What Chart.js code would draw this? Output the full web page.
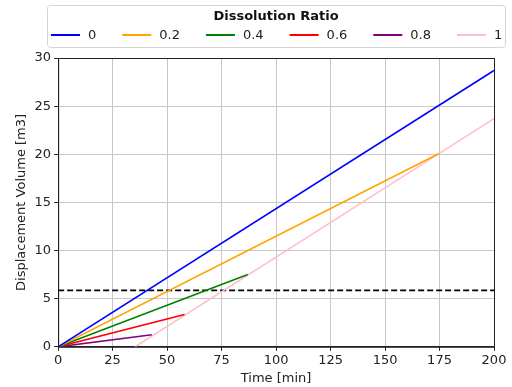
<!DOCTYPE html>
<html>
<head>
<meta charset="utf-8">
<script src="https://cdn.jsdelivr.net/npm/chart.js@4.4.0/dist/chart.umd.min.js"></script>
<style>
  html, body { margin: 0; padding: 0; background: #fff; }
  #wrap { width: 512px; height: 387px; }
</style>
</head>
<body>
<div id="wrap"><canvas id="chart" width="512" height="387"></canvas></div>
<script>
// dissolution ratios and line endpoints [time min, volume m3]
const ratioLabels = ["0", "0.2", "0.4", "0.6", "0.8", "1"];
const lineColors = ["#0000ff", "#ffa500", "#008000", "#ff0000", "#800080", "#ffc0cb"];
const ratio0 = [{ x: 0, y: 0 }, { x: 200, y: 28.7 }];
const ratio02 = [{ x: 0, y: 0 }, { x: 175, y: 20.1 }];
const ratio04 = [{ x: 0, y: 0 }, { x: 87, y: 7.5 }];
const ratio06 = [{ x: 0, y: 0 }, { x: 58, y: 3.35 }];
const ratio08 = [{ x: 0, y: 0 }, { x: 43, y: 1.25 }];
const ratio1 = [{ x: 35.3, y: 0 }, { x: 200, y: 23.7 }];
const thresholdY = 5.86;
const xTicks = [0, 25, 50, 75, 100, 125, 150, 175, 200];
const yTicks = [0, 5, 10, 15, 20, 25, 30];

const seriesData = [ratio0, ratio02, ratio04, ratio06, ratio08, ratio1];
const FONT = "DejaVu Sans";

const datasets = seriesData.map((pts, i) => ({
    label: ratioLabels[i],
    data: pts,
    borderColor: lineColors[i],
    backgroundColor: lineColors[i],
    borderWidth: 1.6,
    pointRadius: 0,
    fill: false,
}));

datasets.push({
    label: "threshold",
    data: [{ x: 0, y: thresholdY }, { x: 200, y: thresholdY }],
    borderColor: "#000000",
    borderWidth: 1.6,
    borderDash: [6, 3],
    pointRadius: 0,
    fill: false,
});

// matplotlib-style frame + legend box with one row of items
const framePlugin = {
    id: "frame",
    afterDraw(chart) {
        const ctx = chart.ctx;
        const a = chart.chartArea;
        ctx.save();
        ctx.strokeStyle = "#222";
        ctx.lineWidth = 1;
        ctx.strokeRect(a.left + 0.5, a.top + 0.5, a.right - a.left, a.bottom - a.top);

        // legend box
        const boxL = 47, boxR = 505, boxT = 5, boxB = 47;
        ctx.strokeStyle = "#d4d4d4";
        ctx.beginPath();
        ctx.roundRect(boxL + 0.5, boxT + 0.5, boxR - boxL, boxB - boxT, 3);
        ctx.stroke();

        ctx.fillStyle = "#111";
        ctx.font = "bold 13px '" + FONT + "'";
        ctx.textAlign = "center";
        ctx.textBaseline = "middle";
        ctx.fillText("Dissolution Ratio", (boxL + boxR) / 2, 17);

        ctx.font = "13px '" + FONT + "'";
        ctx.textAlign = "left";
        let x = 51;
        const y = 35;
        chart.data.datasets.forEach((ds) => {
            if (ds.label === "threshold") return;
            ctx.strokeStyle = ds.borderColor;
            ctx.lineWidth = 2;
            ctx.beginPath();
            ctx.moveTo(x, y);
            ctx.lineTo(x + 29, y);
            ctx.stroke();
            ctx.fillStyle = "#222";
            ctx.fillText(ds.label, x + 37, y + 1);
            x += 37 + ctx.measureText(ds.label).width + 26;
        });
        ctx.restore();
    },
};

new Chart(document.getElementById("chart").getContext("2d"), {
    type: "line",
    data: { datasets: datasets },
    options: {
        responsive: false,
        animation: false,
        layout: { padding: { left: 14, right: 18, top: 58, bottom: 1 } },
        plugins: {
            legend: { display: false },
            tooltip: { enabled: false },
        },
        scales: {
            x: {
                type: "linear",
                min: 0,
                max: 200,
                afterBuildTicks: (axis) => {
                    axis.ticks = xTicks.map((v) => ({ value: v }));
                },
                grid: { color: "#c8c8c8", lineWidth: 1, tickLength: 4, tickColor: "#222" },
                border: { color: "#222" },
                ticks: {
                    color: "#222",
                    font: { family: FONT, size: 13 },
                    maxRotation: 0,
                    padding: 2,
                },
                title: {
                    display: true,
                    text: "Time [min]",
                    color: "#222",
                    padding: { top: 0, bottom: 0 },
                    font: { family: FONT, size: 13 },
                },
            },
            y: {
                type: "linear",
                min: 0,
                max: 30,
                afterBuildTicks: (axis) => {
                    axis.ticks = yTicks.map((v) => ({ value: v }));
                },
                grid: { color: "#c8c8c8", lineWidth: 1, tickLength: 4, tickColor: "#222" },
                border: { color: "#222" },
                ticks: {
                    color: "#222",
                    font: { family: FONT, size: 13 },
                    padding: 3,
                },
                title: {
                    display: true,
                    text: "Displacement Volume [m3]",
                    color: "#222",
                    padding: { top: 0, bottom: 2 },
                    font: { family: FONT, size: 13 },
                },
            },
        },
    },
    plugins: [framePlugin],
});
</script>
</body>
</html>
